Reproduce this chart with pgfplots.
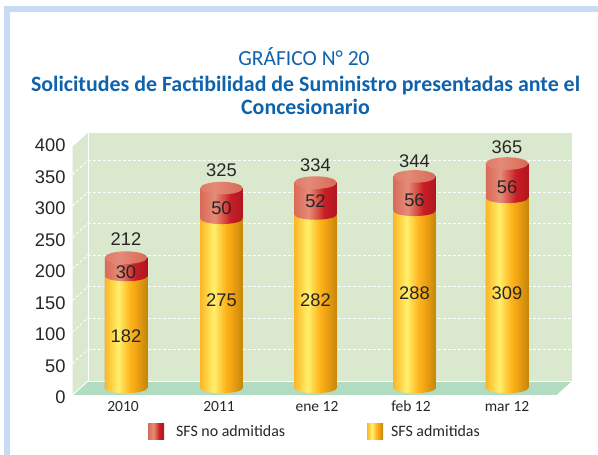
\documentclass[border=0pt]{standalone}
\usepackage{pgfplots}
\pgfplotsset{compat=1.18}
\usepackage{fontspec}
\setmainfont{Liberation Sans}
\newfontfamily\calfont{Carlito}
\definecolor{wallc}{HTML}{DAE9CD}
\definecolor{floorc}{HTML}{B2DCC2}
\definecolor{framec}{HTML}{C8DBF1}
\definecolor{titlec}{HTML}{0F62AC}
\definecolor{txt}{HTML}{262626}
\definecolor{yc1}{HTML}{FBB62A}\definecolor{yc2}{HTML}{FFD040}\definecolor{yc3}{HTML}{FFF06E}\definecolor{yc3b}{HTML}{FFD548}\definecolor{yc4}{HTML}{FDB41C}\definecolor{yc4b}{HTML}{F0A314}\definecolor{yc5}{HTML}{C4860A}
\definecolor{rc1}{HTML}{DA6A58}\definecolor{rc2}{HTML}{E48C78}\definecolor{rc3}{HTML}{D2403A}\definecolor{rc4}{HTML}{C81E28}\definecolor{rc5}{HTML}{B0161E}
\definecolor{cc1}{HTML}{DF7A68}\definecolor{cc2}{HTML}{E58A78}\definecolor{cc3}{HTML}{D76A58}
\pgfdeclarehorizontalshading{yell}{100bp}{color(0bp)=(yc1);color(25bp)=(yc1);color(32bp)=(yc2);color(41bp)=(yc3);color(47bp)=(yc3b);color(55bp)=(yc4);color(62bp)=(yc4b);color(75bp)=(yc5);color(100bp)=(yc5)}
\pgfdeclarehorizontalshading{redb}{100bp}{color(0bp)=(rc1);color(25bp)=(rc1);color(42bp)=(rc2);color(55bp)=(rc3);color(60bp)=(rc4);color(75bp)=(rc5);color(100bp)=(rc5)}
\pgfdeclarehorizontalshading{redc}{100bp}{color(0bp)=(cc1);color(25bp)=(cc1);color(42bp)=(cc2);color(75bp)=(cc3);color(100bp)=(cc3)}
\pgfdeclareplotmark{ylw}{\pgfpathellipse{\pgfpointorigin}{\pgfqpoint{21.25pt}{0pt}}{\pgfqpoint{0pt}{5.2pt}}\pgfshadepath{yell}{0}\pgfusepath{discard}}
\pgfdeclareplotmark{rdb}{\pgfpathellipse{\pgfpointorigin}{\pgfqpoint{21.25pt}{0pt}}{\pgfqpoint{0pt}{5.2pt}}\pgfshadepath{redb}{0}\pgfusepath{discard}}
\pgfdeclareplotmark{rdc}{\pgfpathellipse{\pgfpointorigin}{\pgfqpoint{21.25pt}{0pt}}{\pgfqpoint{0pt}{6.3pt}}\pgfshadepath{redc}{0}\pgfusepath{discard}}
% one cylinder: x, admitted, total
\newcommand{\cyl}[3]{%
  \addplot[ybar,bar width=42.5pt,bar shift=0pt,draw=none,shade,shading=redb] coordinates {(#1,#3)};
  \addplot[ybar,bar width=42.5pt,bar shift=0pt,draw=none,shade,shading=yell] coordinates {(#1,#2)};
  \addplot[only marks,mark=ylw] coordinates {(#1,0)};
  \addplot[only marks,mark=rdb] coordinates {(#1,#2)};
  \addplot[only marks,mark=rdc] coordinates {(#1,#3)};
}
\newcommand{\lab}[3]{\node[font=\fontsize{18.3}{20}\selectfont,text=txt,inner sep=0pt] at (#1,455-#2) {#3};}
\newcommand{\gridl}[2]{%
  \addplot[white,line width=0.9pt,dash pattern=on 3pt off 2pt] coordinates {(88,#2)(572,#2)};
  \addplot[white,line width=0.9pt,dash pattern=on 3pt off 2pt] coordinates {(72.5,#1)(88,#2)};
}
\begin{document}
\begin{tikzpicture}[x=1pt,y=1pt]
\path[use as bounding box] (0,0) rectangle (598,455);
\fill[framec] (4,0) rectangle (10,449);
\fill[framec] (4,443) rectangle (598,449);
\begin{axis}[
  at={(72.5pt,60pt)},anchor=south west,scale only axis,
  width=499.5pt,height=262.3pt,
  xmin=72.5,xmax=572,ymin=0,ymax=416.3,clip=false,
  axis line style={draw=none},major tick length=0pt,
  ytick={0,50,100,150,200,250,300,350,400},
  xtick={123,219,317,411,507},
  xticklabels={2010,2011,ene 12,feb 12,mar 12},
  /pgf/number format/assume math mode=true,
  yticklabel style={font=\fontsize{18.3}{20}\selectfont,text=txt,yshift=-2.7pt,xshift=-3.5pt},
  xticklabel style={font=\calfont\fontsize{15.5}{17}\selectfont,text=txt,text height=10.5pt,text depth=3pt,yshift=-2pt},
]
\addplot[fill=wallc,draw=none] coordinates {(88,22.2)(572,22.2)(572,416.3)(88,416.3)} --cycle;
\addplot[fill=wallc,draw=none] coordinates {(72.5,0)(88,22.2)(88,416.3)(72.5,394)} --cycle;
\addplot[fill=floorc,draw=none] coordinates {(72.5,0)(556.5,0)(572,22.2)(88,22.2)} --cycle;
\gridl{50}{72.2}\gridl{100}{122.2}\gridl{150}{172.2}\gridl{200}{222.2}\gridl{250}{272.2}\gridl{300}{322.2}\gridl{350}{372.2}
\addplot[white,line width=0.9pt] coordinates {(88,416.3)(88,22.2)(572,22.2)};
\addplot[white,line width=0.9pt] coordinates {(72.5,0)(556.5,0)};
\addplot[white,line width=0.9pt] coordinates {(72.5,0)(88,22.2)};
\end{axis}
\begin{axis}[
  at={(0pt,0pt)},anchor=south west,scale only axis,
  width=598pt,height=455pt,
  xmin=0,xmax=598,ymin=-108.94,ymax=630.89,clip=false,hide axis,
]
\cyl{126}{182}{212}
\cyl{221.5}{275}{325}
\cyl{315.5}{282}{334}
\cyl{414.5}{288}{344}
\cyl{507}{309}{365}
\end{axis}
\lab{126}{239}{212}\lab{221.5}{170}{325}\lab{315.5}{165}{334}\lab{414.5}{161.5}{344}\lab{507}{147}{365}
\lab{126}{272}{30}\lab{221.5}{208}{50}\lab{315.5}{201.5}{52}\lab{414.5}{200}{56}\lab{507}{187}{56}
\lab{126}{336}{182}\lab{221.5}{300}{275}\lab{315.5}{300}{282}\lab{414.5}{293}{288}\lab{507}{293}{309}
\node[font=\calfont\fontsize{21.5}{24}\selectfont,text=titlec,inner sep=0pt,anchor=base] at (304,389) {GRÁFICO N° 20};
\node[font=\calfont\bfseries\fontsize{21.9}{24}\selectfont,text=titlec,inner sep=0pt,anchor=base] at (305.5,363.3) {Solicitudes de Factibilidad de Suministro presentadas ante el};
\node[font=\calfont\bfseries\fontsize{21.9}{24}\selectfont,text=titlec,inner sep=0pt,anchor=base] at (305.5,340) {Concesionario};
\shade[shading=redb] (148,15) rectangle (164,31);
\node[font=\calfont\fontsize{15.9}{17}\selectfont,text=txt,anchor=west,inner sep=0pt] at (176,24) {SFS no admitidas};
\shade[shading=yell] (367,15) rectangle (383,31);
\node[font=\calfont\fontsize{15.9}{17}\selectfont,text=txt,anchor=west,inner sep=0pt] at (391,24) {SFS admitidas};
\end{tikzpicture}
\end{document}
